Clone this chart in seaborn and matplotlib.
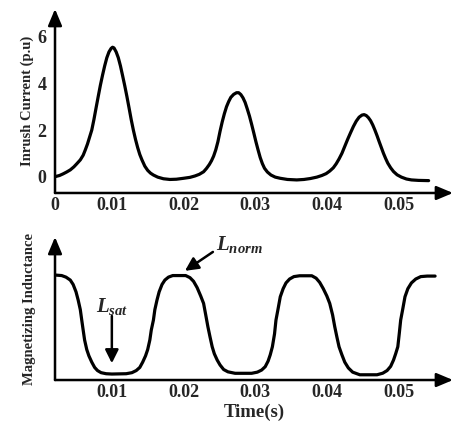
import numpy as np
import pandas as pd
import matplotlib
matplotlib.use('Agg')
import matplotlib.pyplot as plt
import seaborn as sns

# Inrush current (p.u)
t_cur = [0.00207, 0.0027, 0.0032, 0.0037, 0.0042, 0.0047, 0.0051, 0.0056, 0.0060,
         0.0063, 0.0066, 0.0069, 0.0072, 0.0075, 0.0078, 0.0081, 0.0084, 0.0087,
         0.0090, 0.0093, 0.0096, 0.0099, 0.0101, 0.0103, 0.0106, 0.0109, 0.0112,
         0.0115, 0.0118, 0.0121, 0.0124, 0.0127, 0.0130, 0.0133, 0.0136, 0.0139,
         0.0142, 0.0146, 0.0150, 0.0154, 0.0158, 0.0164, 0.0172, 0.0181, 0.0190,
         0.0200, 0.0209, 0.0216, 0.0222, 0.0228, 0.0232, 0.0236, 0.0239, 0.0242,
         0.0245, 0.0248, 0.0251, 0.0254, 0.0257, 0.0260, 0.0263, 0.0266, 0.0270,
         0.0274, 0.0277, 0.0280, 0.0283, 0.0286, 0.0289, 0.0292, 0.0295, 0.0298,
         0.0301, 0.0304, 0.0307, 0.0310, 0.0313, 0.0317, 0.0322, 0.0328, 0.0335,
         0.0345, 0.0358, 0.0368, 0.0377, 0.0386, 0.0393, 0.0399, 0.0404, 0.0409,
         0.0413, 0.0417, 0.0421, 0.0425, 0.0429, 0.0433, 0.0437, 0.0441, 0.0445,
         0.0449, 0.0452, 0.0455, 0.0458, 0.0461, 0.0464, 0.0467, 0.0470, 0.0473,
         0.0476, 0.0479, 0.0482, 0.0485, 0.0489, 0.0493, 0.0498, 0.0504, 0.0511,
         0.0518, 0.0528, 0.0542]
current = [0.0, 0.05, 0.12, 0.2, 0.29, 0.42, 0.55, 0.72, 0.92,
           1.15, 1.4, 1.7, 2.0, 2.45, 2.95, 3.44, 3.92, 4.35,
           4.75, 5.1, 5.35, 5.5, 5.55, 5.52, 5.35, 5.1, 4.75,
           4.33, 3.9, 3.44, 2.95, 2.45, 2.0, 1.6, 1.25, 0.95,
           0.72, 0.45, 0.27, 0.15, 0.07, -0.02, -0.09, -0.12, -0.11,
           -0.07, -0.03, 0.03, 0.1, 0.21, 0.35, 0.52, 0.68, 0.88,
           1.15, 1.5, 1.95, 2.35, 2.7, 3.0, 3.22, 3.4, 3.53,
           3.6, 3.6, 3.52, 3.38, 3.18, 2.9, 2.6, 2.25, 1.88,
           1.5, 1.15, 0.82, 0.56, 0.36, 0.2, 0.07, -0.02, -0.07,
           -0.12, -0.14, -0.12, -0.08, -0.02, 0.05, 0.13, 0.24, 0.38,
           0.55, 0.76, 1.0, 1.3, 1.6, 1.88, 2.15, 2.38, 2.55,
           2.64, 2.66, 2.62, 2.53, 2.4, 2.22, 2.0, 1.76, 1.5,
           1.25, 1.0, 0.78, 0.58, 0.38, 0.22, 0.08, -0.02, -0.1,
           -0.14, -0.16, -0.17]

# Magnetizing inductance (relative)
t_ind = [0.00207, 0.0030, 0.0036, 0.0042, 0.0046, 0.0050, 0.0053, 0.0056, 0.0058,
         0.0060, 0.0062, 0.0065, 0.0068, 0.0072, 0.0076, 0.0080, 0.0085, 0.0092,
         0.0100, 0.0120, 0.0128, 0.0134, 0.0139, 0.0143, 0.0147, 0.0150, 0.0153,
         0.0155, 0.0158, 0.0160, 0.0163, 0.0166, 0.0170, 0.0174, 0.0179, 0.0185,
         0.0203, 0.0209, 0.0214, 0.0219, 0.0224, 0.0228, 0.0231, 0.0234, 0.0237,
         0.0240, 0.0243, 0.0247, 0.0251, 0.0256, 0.0262, 0.0272, 0.0295, 0.0303,
         0.0309, 0.0314, 0.0318, 0.0321, 0.0324, 0.0327, 0.0329, 0.0332, 0.0335,
         0.0339, 0.0343, 0.0348, 0.0354, 0.0362, 0.0379, 0.0385, 0.0390, 0.0395,
         0.0400, 0.0404, 0.0408, 0.0411, 0.0414, 0.0417, 0.0421, 0.0425, 0.0430,
         0.0436, 0.0446, 0.0470, 0.0478, 0.0484, 0.0489, 0.0493, 0.0496, 0.0499,
         0.0501, 0.0503, 0.0506, 0.0509, 0.0513, 0.0518, 0.0524, 0.0531, 0.0540,
         0.0551]
inductance = [1.0, 0.995, 0.98, 0.952, 0.91, 0.84, 0.762, 0.67, 0.571,
              0.475, 0.381, 0.29, 0.23, 0.17, 0.12, 0.09, 0.07, 0.06,
              0.057, 0.06, 0.07, 0.09, 0.12, 0.17, 0.23, 0.29, 0.381,
              0.475, 0.571, 0.67, 0.762, 0.84, 0.91, 0.952, 0.98, 0.995,
              0.995, 0.975, 0.94, 0.88, 0.8, 0.73, 0.62, 0.508, 0.41,
              0.317, 0.25, 0.19, 0.143, 0.1, 0.078, 0.064, 0.064, 0.075,
              0.095, 0.127, 0.18, 0.24, 0.317, 0.44, 0.571, 0.68, 0.793,
              0.87, 0.925, 0.962, 0.985, 0.993, 0.993, 0.97, 0.93, 0.87,
              0.8, 0.73, 0.62, 0.508, 0.41, 0.317, 0.24, 0.17, 0.115,
              0.075, 0.05, 0.05, 0.065, 0.09, 0.13, 0.19, 0.25, 0.317,
              0.44, 0.571, 0.68, 0.793, 0.87, 0.925, 0.962, 0.985, 0.99,
              0.99]

x_ticks = [0.01, 0.02, 0.03, 0.04, 0.05]
x_labels = ['0.01', '0.02', '0.03', '0.04', '0.05']
y_ticks = [0, 2, 4, 6]

df_cur = pd.DataFrame({'t': t_cur, 'i': current})
df_ind = pd.DataFrame({'t': t_ind, 'L': inductance})

sns.set_style('white')
plt.rcParams['font.family'] = ['Liberation Serif', 'DejaVu Serif']
plt.rcParams['font.weight'] = 'bold'
plt.rcParams['mathtext.fontset'] = 'custom'
plt.rcParams['mathtext.it'] = 'Liberation Serif:italic:bold'
plt.rcParams['mathtext.rm'] = 'Liberation Serif:bold'

fig = plt.figure(figsize=(4.55, 4.28), dpi=100)
ax1 = fig.add_axes([0.1209, 0.5491, 0.8747, 0.4299])
ax2 = fig.add_axes([0.1209, 0.1121, 0.8747, 0.3341])

xmin, xmax = 0.00207, 0.0576

sns.lineplot(data=df_cur, x='t', y='i', ax=ax1, color='black', lw=2.3, sort=False)
sns.lineplot(data=df_ind, x='t', y='L', ax=ax2, color='black', lw=2.3, sort=False)

arrow_style = '-|>,head_length=1.0,head_width=0.42'
for ax in (ax1, ax2):
    ax.set_xlim(xmin, xmax)
    for s in ax.spines.values():
        s.set_visible(False)
    # axis lines with arrow heads
    ax.annotate('', xy=(1, 0), xytext=(0, 0), xycoords='axes fraction',
                arrowprops=dict(arrowstyle=arrow_style, color='black', lw=1.8,
                                shrinkA=0, shrinkB=0))
    ax.annotate('', xy=(0, 1), xytext=(0, 0), xycoords='axes fraction',
                arrowprops=dict(arrowstyle=arrow_style, color='black', lw=1.8,
                                shrinkA=0, shrinkB=0))
    ax.tick_params(axis='both', direction='in', length=6, width=1.6,
                   labelsize=13, color='black')
    ax.set_xlabel('')
    ax.set_ylabel('')

# upper panel
ax1.set_ylim(-0.7, 7.19)
ax1.set_xticks([xmin] + x_ticks)
ax1.set_xticklabels(['0'] + x_labels, fontweight='bold')
ax1.set_yticks(y_ticks)
ax1.set_yticklabels([str(v) for v in y_ticks], fontweight='bold')
ax1.tick_params(axis='x', pad=3)
ax1.tick_params(axis='y', pad=6)
ax1.set_ylabel('Inrush Current (p.u)', fontsize=10.5, fontweight='bold', labelpad=3)

# lower panel
ax2.set_ylim(0, 1.362)
ax2.set_xticks(x_ticks)
ax2.set_xticklabels(x_labels, fontweight='bold')
ax2.set_yticks([])
ax2.tick_params(axis='x', pad=3)
ax2.set_ylabel('Magnetizing Inductance', fontsize=10.5, fontweight='bold', labelpad=14)
ax2.set_xlabel('Time(s)', fontsize=13.5, fontweight='bold', labelpad=2)

# annotations
ax2.annotate('', xy=(0.0100, 0.16), xytext=(0.0100, 0.61),
             arrowprops=dict(arrowstyle='-|>,head_length=0.8,head_width=0.4',
                             color='black', lw=1.8, shrinkA=0, shrinkB=0))
ax2.text(0.0100, 0.70, r'$L_{sat}$', ha='center', va='center', fontsize=15)
ax2.annotate('', xy=(0.0202, 1.04), xytext=(0.0241, 1.22),
             arrowprops=dict(arrowstyle='-|>,head_length=0.8,head_width=0.4',
                             color='black', lw=1.8, shrinkA=0, shrinkB=0),
             annotation_clip=False)
ax2.text(0.0245, 1.238, r'$L_{norm}$', ha='left', va='baseline', fontsize=15)

fig.savefig('out.png', dpi=100)
